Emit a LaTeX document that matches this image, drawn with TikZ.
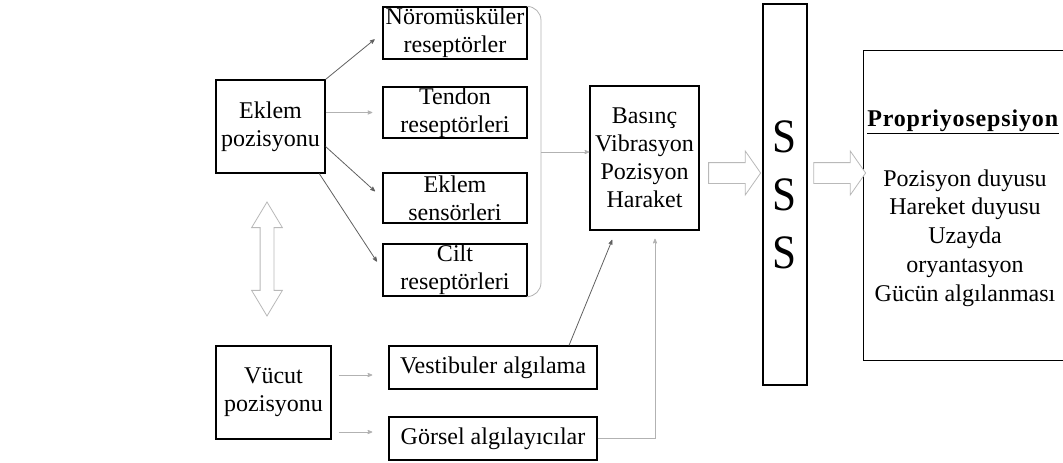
\documentclass[tikz,border=0pt]{standalone}
\usepackage{fontspec}
\setmainfont{Liberation Serif}
\newfontfamily\ssfont{Liberation Serif}[FakeStretch=0.9]
\usepackage{tikz}
\usetikzlibrary{arrows,calc,positioning,shapes.arrows}

\begin{document}
\begin{tikzpicture}[x=1pt,y=-1pt,>=stealth',semithick]
	\tikzstyle{box}=[draw=black, line width=1.2pt, fill=white, inner sep=0pt, align=center, font=\fontsize{24}{28}\selectfont]
	\tikzstyle{link}=[->, draw=gray!75!black, line width=0.8pt, shorten >=10pt]
	\tikzstyle{hollow}=[draw=gray!55, fill=white, line width=0.8pt, inner xsep=0pt, inner ysep=10pt, single arrow, single arrow head extend=11.5pt, single arrow tip angle=110, minimum width=43, minimum height=52]
	\useasboundingbox (0,0) rectangle (1063,463);
		\node[box, minimum width=109, minimum height=93] (eklem) at (270.5,126.5) {Eklem\\pozisyonu};
		\node[box, minimum width=144, minimum height=52] (noro) at (455,33) {N\"orom\"usk\"uler\\resept\"orler};
		\node[box, minimum width=144, minimum height=51] (tendon) at (455,112.5) {Tendon\\resept\"orleri};
		\node[box, minimum width=144, minimum height=50] (sensor) at (455,198) {Eklem\\sens\"orleri};
		\node[box, minimum width=144, minimum height=52] (cilt) at (455,270) {Cilt\\resept\"orleri};
		\node[box, minimum width=109, minimum height=144] (basinc) at (644.5,158) {Bas\i n\c c\\Vibrasyon\\Pozisyon\\Haraket};
		\node[box, minimum width=44, minimum height=381, font=\ssfont\fontsize{48}{58}\selectfont] (sss) at (785,194.5) {S\\S\\S};
		\node[minimum width=199, minimum height=309, inner sep=0pt] (prop) at (963.5,205.5) {};
		\node[anchor=west, inner sep=0pt, font=\fontsize{24}{28}\selectfont\addfontfeature{LetterSpace=3.5}] (baslik) at (867,122) {\underline{\textbf{Propriyosepsiyon}}};
		\node[align=center, inner sep=0pt, font=\fontsize{24}{28.75}\selectfont] (duyular) at (965,238) {Pozisyon duyusu\\Hareket duyusu\\Uzayda\\oryantasyon\\G\"uc\"un alg\i lanmas\i};
		\node[box, minimum width=115, minimum height=93] (vucut) at (273.5,392.5) {V\"ucut\\pozisyonu};
		\node[box, minimum width=208, minimum height=43] (vest) at (493,367.5) {Vestibuler alg\i lama};
		\node[box, minimum width=208, minimum height=43] (gorsel) at (493,438.5) {G\"orsel alg\i lay\i c\i lar};

		\draw[line width=1.2pt] (prop.north east) -- (prop.north west) -- (prop.south west) -- (prop.south east);

		\draw[link] (eklem.north east) -- (noro.west);
		\draw[link, draw=gray!60] (eklem.east |- tendon) -- (tendon.west);
		\draw[link] (eklem.-20) -- (sensor.west);
		\draw[link] (eklem.-44) -- (cilt.west);

		\draw[draw=gray!60, line width=0.8pt, rounded corners=14pt] ([xshift=1pt]noro.north east) -| (541,152) coordinate (brace) |- ([xshift=1pt]cilt.south east);
		\draw[link, draw=gray!60, shorten >=0pt] (brace) -- (brace -| basinc.west);

		\draw[link, draw=gray!60, shorten <=7pt, shorten >=16pt] (vucut.east |- 0,375) -- (vest.west |- 0,375);
		\draw[link, draw=gray!60, shorten <=7pt, shorten >=16pt] (vucut.east |- 0,432) -- (gorsel.west |- 0,432);
		\draw[link] (vest.north -| 569,0) -- ($(basinc.south)+(-28.5,0)$);
		\draw[link, draw=gray!60, shorten >=8pt] (gorsel.east) -| ($(basinc.south)+(10.5,0)$);

		\node[hollow] (ok1) at (731,173) {};
		\node[hollow] (ok2) at (836,173) {};
		\node[hollow, double arrow, inner ysep=6.5pt, double arrow head extend=8.5pt, double arrow tip angle=62, minimum width=30, minimum height=114, rotate=90] (ciftok) at (267,259) {};
\end{tikzpicture}
\end{document}
